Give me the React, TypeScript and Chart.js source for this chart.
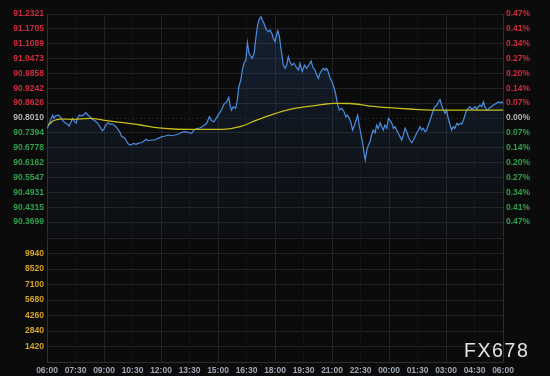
import React, { useEffect, useRef } from "react";
import { Chart, registerables } from "chart.js";
Chart.register(...registerables);

// ---- data ----
const TIME_TICKS = [0, 90, 180, 270, 360, 450, 540, 630, 720, 810, 900, 990, 1080, 1170, 1260, 1350, 1440];
const TIME_LABELS = ["06:00", "07:30", "09:00", "10:30", "12:00", "13:30", "15:00", "16:30", "18:00", "19:30", "21:00", "22:30", "00:00", "01:30", "03:00", "04:30", "06:00"];

const PRICE_TICKS = [91.2321, 91.1705, 91.1089, 91.0473, 90.9858, 90.9242, 90.8626, 90.801, 90.7394, 90.6778, 90.6162, 90.5547, 90.4931, 90.4315, 90.3699];
const PCT_LABELS = ["0.47%", "0.41%", "0.34%", "0.27%", "0.20%", "0.14%", "0.07%", "0.00%", "0.07%", "0.14%", "0.20%", "0.27%", "0.34%", "0.41%", "0.47%"];
const PRICE_MIN = 90.3083;
const PRICE_MAX = 91.2321;

const VOL_TICKS = [0, 1420, 2840, 4260, 5680, 7100, 8520, 9940, 11360];

// minutes since 06:00
const PRICE_T = [1, 9, 18, 22, 28, 36, 43, 50, 57, 64, 70, 75, 80, 85, 92, 96, 102, 110, 117, 123, 129, 136, 141, 148, 155, 162, 170, 175, 181, 186, 192, 199, 207, 215, 222, 231, 236, 243, 249, 257, 264, 273, 281, 288, 296, 304, 313, 320, 331, 341, 351, 362, 373, 383, 394, 404, 415, 425, 436, 446, 457, 464, 475, 483, 494, 504, 513, 520, 527, 536, 544, 552, 559, 568, 574, 578, 583, 588, 596, 601, 606, 612, 617, 622, 628, 633, 638, 643, 648, 654, 660, 665, 670, 676, 681, 686, 692, 699, 704, 710, 715, 720, 725, 729, 734, 738, 742, 746, 752, 757, 762, 767, 773, 780, 786, 794, 799, 806, 813, 820, 827, 834, 839, 846, 852, 857, 862, 868, 873, 878, 883, 888, 894, 902, 910, 917, 923, 931, 938, 944, 948, 955, 959, 965, 969, 976, 981, 986, 992, 997, 1002, 1005, 1010, 1015, 1020, 1025, 1030, 1036, 1041, 1046, 1052, 1057, 1062, 1067, 1073, 1078, 1083, 1089, 1094, 1099, 1104, 1109, 1115, 1120, 1125, 1131, 1136, 1141, 1146, 1152, 1157, 1162, 1167, 1173, 1178, 1183, 1188, 1194, 1199, 1204, 1210, 1215, 1220, 1225, 1231, 1236, 1241, 1246, 1252, 1257, 1262, 1267, 1273, 1278, 1283, 1288, 1294, 1299, 1304, 1310, 1315, 1320, 1325, 1330, 1336, 1341, 1346, 1352, 1357, 1362, 1367, 1373, 1378, 1383, 1389, 1394, 1399, 1404, 1409, 1415, 1420, 1425, 1431, 1436, 1440];
const PRICE_V = [90.7583, 90.7856, 90.8134, 90.7997, 90.8105, 90.8134, 90.8039, 90.7898, 90.7815, 90.7761, 90.7678, 90.7815, 90.7997, 90.7898, 90.779, 90.7997, 90.8134, 90.8093, 90.8163, 90.823, 90.8134, 90.8064, 90.7968, 90.7927, 90.7856, 90.7761, 90.7583, 90.7483, 90.7583, 90.772, 90.7815, 90.7761, 90.7761, 90.7678, 90.7583, 90.7401, 90.7235, 90.721, 90.7098, 90.6932, 90.6891, 90.6961, 90.692, 90.6961, 90.6986, 90.7027, 90.7127, 90.7069, 90.7098, 90.7098, 90.7168, 90.7235, 90.7264, 90.7305, 90.7276, 90.7305, 90.7347, 90.7417, 90.7442, 90.7417, 90.7376, 90.7512, 90.7583, 90.7595, 90.7678, 90.779, 90.8064, 90.7898, 90.7856, 90.8039, 90.8205, 90.8371, 90.859, 90.8686, 90.8868, 90.8549, 90.8341, 90.8478, 90.8412, 90.8756, 90.9307, 90.9585, 90.9999, 91.0277, 91.0414, 91.1131, 91.0692, 91.058, 91.0485, 91.0692, 91.138, 91.1865, 91.2101, 91.2209, 91.2043, 91.1906, 91.1687, 91.1587, 91.1658, 91.1521, 91.1314, 91.1173, 91.1451, 91.1629, 91.138, 91.0965, 91.0621, 91.0207, 91.007, 91.0207, 91.0551, 91.0344, 91.0207, 91.0277, 91.0136, 90.9999, 91.0277, 90.9929, 91.0207, 91.007, 91.0207, 91.0373, 91.0136, 90.9999, 90.9792, 90.9655, 90.9863, 90.9999, 91.007, 90.9999, 91.007, 90.9929, 90.9668, 90.9448, 90.91, 90.8619, 90.8341, 90.8412, 90.8271, 90.8064, 90.8134, 90.7997, 90.7856, 90.7512, 90.7649, 90.7927, 90.8134, 90.772, 90.7305, 90.6961, 90.6476, 90.6269, 90.6683, 90.6891, 90.7027, 90.7305, 90.7512, 90.7401, 90.772, 90.7583, 90.7815, 90.7649, 90.7512, 90.772, 90.7583, 90.7997, 90.7927, 90.779, 90.7583, 90.7649, 90.7512, 90.7376, 90.7235, 90.7098, 90.7305, 90.7583, 90.7442, 90.7235, 90.7098, 90.6986, 90.7098, 90.7235, 90.7376, 90.7512, 90.7649, 90.7512, 90.7583, 90.7442, 90.7512, 90.772, 90.7927, 90.8134, 90.8341, 90.8478, 90.8549, 90.8686, 90.8785, 90.8549, 90.8341, 90.8205, 90.8341, 90.7997, 90.772, 90.7512, 90.7649, 90.7583, 90.779, 90.772, 90.779, 90.7761, 90.7927, 90.8134, 90.8341, 90.8412, 90.8478, 90.8371, 90.8412, 90.8478, 90.8371, 90.8478, 90.8549, 90.8478, 90.8686, 90.8478, 90.8341, 90.8371, 90.8454, 90.8478, 90.8549, 90.859, 90.8619, 90.8686, 90.8644, 90.8686, 90.8619];

const MA_T = [4, 20, 41, 83, 136, 189, 241, 294, 346, 399, 452, 556, 609, 662, 715, 767, 820, 873, 904, 957, 1020, 1083, 1146, 1210, 1273, 1336, 1440];
const MA_V = [90.772, 90.7898, 90.7968, 90.7956, 90.7997, 90.7898, 90.7815, 90.772, 90.7608, 90.7554, 90.7541, 90.7541, 90.7649, 90.7927, 90.8175, 90.8371, 90.8478, 90.8578, 90.8619, 90.8611, 90.8507, 90.8437, 90.8383, 90.8341, 90.8341, 90.8341, 90.8341];

// ---- styles ----
const BG = "#0b0b0b";
const GRID = "#222222";
const BORDER = "#2e2e2e";
const RED = "#d02c3e";
const GREEN = "#30a04c";
const GRAY = "#b4b4b4";
const VOL = "#d8a42c";
const XLAB = "#a0a9b4";
const FONT = { family: "'Liberation Sans', Arial, sans-serif", size: 8.5, weight: "bold" as const };

const tickColor = (i: number) => (i < 7 ? RED : i === 7 ? GRAY : GREEN);

export default function App() {
  const topRef = useRef<HTMLCanvasElement>(null);
  const botRef = useRef<HTMLCanvasElement>(null);

  useEffect(() => {
    const xDash = (ctx: any) => (ctx.tick && ctx.tick.value % 180 === 90 ? [1, 2] : []);

    const top = new Chart(topRef.current!, {
      type: "line",
      data: {
        datasets: [
          {
            data: MA_T.map((t, i) => ({ x: t, y: MA_V[i] })),
            borderColor: "#c6be1c",
            borderWidth: 1.3,
            pointRadius: 0,
            fill: false,
            cubicInterpolationMode: "monotone",
            order: 0,
          },
          {
            data: PRICE_T.map((t, i) => ({ x: t, y: PRICE_V[i] })),
            borderColor: "#4a8fe3",
            borderWidth: 1.2,
            pointRadius: 0,
            tension: 0,
            fill: "start",
            backgroundColor: (ctx: any) => {
              const { chart } = ctx;
              const area = chart.chartArea;
              if (!area) return "rgba(40,70,110,0.2)";
              const g = chart.ctx.createLinearGradient(0, area.top, 0, area.bottom);
              g.addColorStop(0, "rgba(45,85,140,0.32)");
              g.addColorStop(0.5, "rgba(40,70,115,0.2)");
              g.addColorStop(1, "rgba(30,50,80,0.1)");
              return g;
            },
            order: 1,
          },
        ],
      },
      options: {
        animation: false,
        responsive: false,
        maintainAspectRatio: false,
        layout: { padding: { top: 14, bottom: 1, left: 0, right: 0 } },
        plugins: { legend: { display: false }, tooltip: { enabled: false } },
        scales: {
          x: {
            type: "linear",
            min: 0,
            max: 1440,
            afterBuildTicks: (s: any) => {
              s.ticks = TIME_TICKS.map((v) => ({ value: v }));
            },
            ticks: { display: false },
            grid: { color: GRID, drawTicks: false },
            border: { display: false, dash: xDash },
          },
          y: {
            position: "left",
            min: PRICE_MIN,
            max: PRICE_MAX,
            afterBuildTicks: (s: any) => {
              s.ticks = PRICE_TICKS.map((v) => ({ value: v }));
            },
            afterFit: (s: any) => {
              s.width = 47;
            },
            ticks: {
              autoSkip: false,
              padding: 3,
              font: FONT,
              color: (ctx: any) => tickColor(ctx.index),
              callback: (_v: any, i: number) => PRICE_TICKS[i].toFixed(4),
            },
            grid: { color: GRID, drawTicks: false },
            border: {
              color: BORDER,
              dash: (ctx: any) => (ctx.index === 7 ? [2, 2] : []),
            },
          },
          yr: {
            position: "right",
            min: PRICE_MIN,
            max: PRICE_MAX,
            afterBuildTicks: (s: any) => {
              s.ticks = PRICE_TICKS.map((v) => ({ value: v }));
            },
            afterFit: (s: any) => {
              s.width = 47;
            },
            ticks: {
              autoSkip: false,
              padding: 3,
              font: FONT,
              color: (ctx: any) => tickColor(ctx.index),
              callback: (_v: any, i: number) => PCT_LABELS[i],
            },
            grid: { drawOnChartArea: false, drawTicks: false },
            border: { color: BORDER },
          },
        },
      } as any,
    });

    const bot = new Chart(botRef.current!, {
      type: "line",
      data: { datasets: [{ data: [], yAxisID: "y" }] },
      options: {
        animation: false,
        responsive: false,
        maintainAspectRatio: false,
        layout: { padding: 0 },
        plugins: { legend: { display: false }, tooltip: { enabled: false } },
        scales: {
          x: {
            type: "linear",
            min: 0,
            max: 1440,
            afterBuildTicks: (s: any) => {
              s.ticks = TIME_TICKS.map((v) => ({ value: v }));
            },
            afterFit: (s: any) => {
              s.height = 14;
            },
            ticks: {
              autoSkip: false,
              maxRotation: 0,
              padding: 4,
              font: FONT,
              color: XLAB,
              callback: (_v: any, i: number) => TIME_LABELS[i],
            },
            grid: { color: GRID, drawTicks: false },
            border: { color: BORDER, dash: xDash },
          },
          y: {
            position: "left",
            min: 0,
            max: 11360,
            afterBuildTicks: (s: any) => {
              s.ticks = VOL_TICKS.map((v) => ({ value: v }));
            },
            afterFit: (s: any) => {
              s.width = 47;
            },
            ticks: {
              autoSkip: false,
              padding: 3,
              font: FONT,
              color: VOL,
              callback: (_v: any, i: number) => (i === 0 || i === VOL_TICKS.length - 1 ? "" : String(VOL_TICKS[i])),
            },
            grid: { color: GRID, drawTicks: false },
            border: { color: BORDER },
          },
          yr: {
            position: "right",
            min: 0,
            max: 11360,
            afterFit: (s: any) => {
              s.width = 47;
            },
            ticks: { display: false },
            grid: { drawOnChartArea: false, drawTicks: false },
            border: { color: BORDER },
          },
        },
      } as any,
    });

    return () => {
      top.destroy();
      bot.destroy();
    };
  }, []);

  return (
    <div style={{ position: "fixed", left: 0, top: 0, width: 550, height: 376, background: BG, overflow: "hidden" }}>
      <canvas ref={topRef} width={550} height={245} style={{ position: "absolute", left: 0, top: 0, width: 550, height: 245 }} />
      <canvas ref={botRef} width={550} height={146} style={{ position: "absolute", left: 0, top: 230, width: 550, height: 146 }} />
      <div
        style={{
          position: "absolute",
          left: 464,
          top: 341,
          fontFamily: "'Liberation Sans', Arial, sans-serif",
          fontSize: 19.5,
          lineHeight: 1,
          letterSpacing: 1.6,
          color: "#e4e4e4",
        }}
      >
        FX678
      </div>
    </div>
  );
}
